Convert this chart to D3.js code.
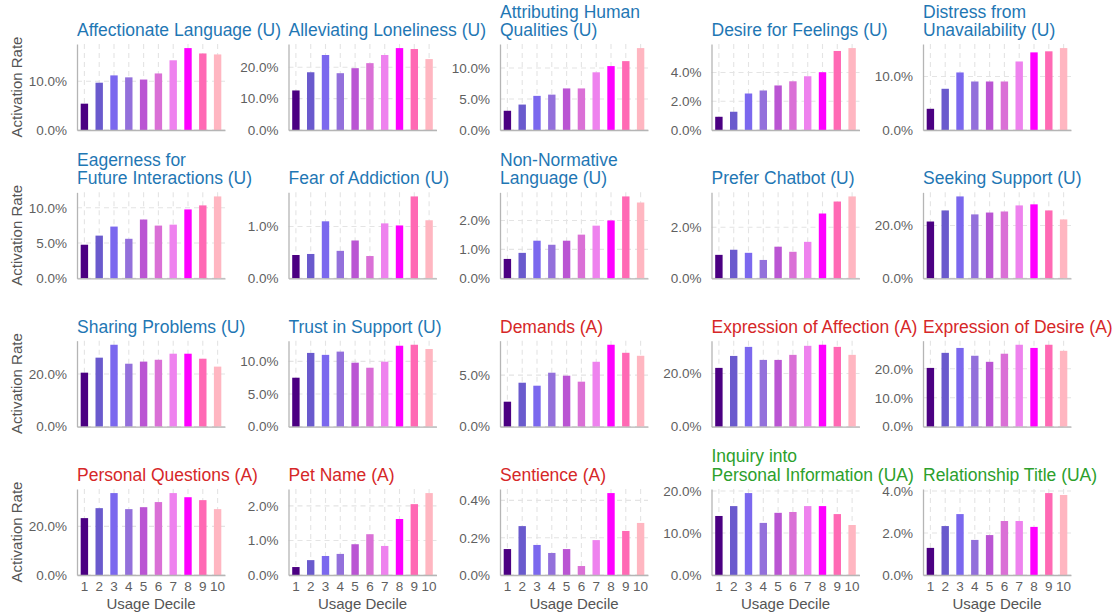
<!DOCTYPE html>
<html>
<head>
<meta charset="utf-8">
<script src="https://cdn.jsdelivr.net/npm/d3@7"></script>
<style>
  body { margin: 0; background: #ffffff; }
  svg { display: block; font-family: "Liberation Sans", Arial, Helvetica, sans-serif; }
</style>
</head>
<body>
<svg id="chart" width="1117" height="613"></svg>
<script>
// ---------------- DATA ----------------
const deciles = ["1", "2", "3", "4", "5", "6", "7", "8", "9", "10"];

const panelTitles = [
  "Affectionate Language (U)", "Alleviating Loneliness (U)", "Attributing Human\nQualities (U)",
  "Desire for Feelings (U)", "Distress from\nUnavailability (U)",
  "Eagerness for\nFuture Interactions (U)", "Fear of Addiction (U)", "Non-Normative\nLanguage (U)",
  "Prefer Chatbot (U)", "Seeking Support (U)",
  "Sharing Problems (U)", "Trust in Support (U)", "Demands (A)",
  "Expression of Affection (A)", "Expression of Desire (A)",
  "Personal Questions (A)", "Pet Name (A)", "Sentience (A)",
  "Inquiry into\nPersonal Information (UA)", "Relationship Title (UA)"
];

const panelTypes = [
  "U", "U", "U", "U", "U",
  "U", "U", "U", "U", "U",
  "U", "U", "A", "A", "A",
  "A", "A", "A", "UA", "UA"
];

// activation rate (%) per usage decile 1..10
const affectionateLanguage   = [5.4, 9.7, 11.2, 10.8, 10.35, 11.6, 14.3, 16.8, 15.7, 15.5];
const alleviatingLoneliness  = [12.6, 18.4, 23.9, 18.1, 19.7, 21.3, 23.9, 26.1, 25.8, 22.6];
const attributingHuman       = [3.1, 4.1, 5.5, 5.7, 6.7, 6.7, 9.3, 10.3, 11.1, 13.2];
const desireForFeelings      = [0.92, 1.27, 2.54, 2.75, 3.1, 3.39, 3.74, 4.02, 5.5, 5.7];
const distressUnavailability = [3.96, 7.7, 10.75, 9.06, 9.06, 9.06, 12.8, 14.5, 14.7, 15.3];
const eagernessFuture        = [4.76, 6.05, 7.33, 5.6, 8.33, 7.47, 7.6, 9.76, 10.33, 11.6];
const fearOfAddiction        = [0.45, 0.47, 1.10, 0.53, 0.73, 0.43, 1.06, 1.02, 1.58, 1.12];
const nonNormative           = [0.67, 0.88, 1.30, 1.16, 1.30, 1.51, 1.82, 2.0, 2.83, 2.62];
const preferChatbot          = [0.92, 1.12, 1.0, 0.72, 1.24, 1.04, 1.43, 2.54, 3.01, 3.21];
const seekingSupport         = [21.5, 25.7, 31.0, 24.2, 24.9, 25.3, 27.6, 28.0, 25.7, 22.3];
const sharingProblems        = [20.5, 26.2, 31.1, 23.9, 24.7, 25.4, 27.7, 27.7, 25.8, 22.8];
const trustInSupport         = [7.5, 11.3, 11.0, 11.5, 9.8, 9.03, 9.95, 12.4, 12.55, 11.9];
const demands                = [2.42, 4.26, 3.97, 5.23, 4.94, 4.36, 6.29, 7.94, 7.16, 6.87];
const expressionAffection    = [22.1, 26.6, 30.0, 25.1, 25.1, 27.0, 30.4, 30.8, 30.0, 27.0];
const expressionDesire       = [20.3, 25.5, 27.2, 24.5, 22.4, 25.2, 28.3, 27.2, 28.3, 26.2];
const personalQuestions      = [23.4, 27.5, 33.7, 27.1, 27.9, 30.0, 33.7, 32.0, 30.8, 27.1];
const petName                = [0.23, 0.43, 0.55, 0.61, 0.89, 1.18, 0.84, 1.62, 2.05, 2.37];
const sentience              = [0.139, 0.262, 0.161, 0.118, 0.139, 0.048, 0.187, 0.439, 0.236, 0.279];
const inquiryPersonal        = [14.05, 16.4, 19.5, 12.4, 14.8, 15.0, 16.4, 16.4, 14.5, 11.9];
const relationshipTitle      = [1.29, 2.33, 2.9, 1.67, 1.9, 2.57, 2.57, 2.29, 3.9, 3.81];

const panelValues = [
  affectionateLanguage, alleviatingLoneliness, attributingHuman, desireForFeelings, distressUnavailability,
  eagernessFuture, fearOfAddiction, nonNormative, preferChatbot, seekingSupport,
  sharingProblems, trustInSupport, demands, expressionAffection, expressionDesire,
  personalQuestions, petName, sentience, inquiryPersonal, relationshipTitle
];

// y tick values (%) per panel
const panelTicks = [
  [0, 10], [0, 10, 20], [0, 5, 10], [0, 2, 4], [0, 10],
  [0, 5, 10], [0, 1], [0, 1, 2], [0, 2], [0, 20],
  [0, 20], [0, 5, 10], [0, 5], [0, 20], [0, 10, 20],
  [0, 20], [0, 1, 2], [0, 0.2, 0.4], [0, 10, 20], [0, 2, 4]
];

const decileColors = ["#4b0082", "#6a5acd", "#7b68ee", "#9370db", "#ba55d3",
                      "#da70d6", "#ee82ee", "#ff00ff", "#ff69b4", "#ffb6c1"];
const typeColors = { "U": "#1f77b4", "A": "#d62728", "UA": "#2ca02c" };

const yAxisTitle = "Activation Rate";
const xAxisTitle = "Usage Decile";

// ---------------- LAYOUT ----------------
const nCols = 5, nRows = 4;
const left0 = 77, colStep = 211.5;
const top0 = 44, rowStep = 148.33;
const panelW = 148, panelH = 86;

const svg = d3.select("#chart");
const gridColor = "#e4e4e4";
const axisColor = "#b5b5b5";
const tickColor = "#5f5f5f";
const titleGray = "#555555";

const color = d3.scaleOrdinal().domain(deciles).range(decileColors);

panelTitles.forEach((title, i) => {
  const col = i % nCols, row = Math.floor(i / nCols);
  const gx = left0 + col * colStep, gy = top0 + row * rowStep;
  const vals = panelValues[i];
  const g = svg.append("g").attr("transform", `translate(${gx},${gy})`);

  const x = d3.scaleBand().domain(deciles).range([0, panelW]).paddingInner(0.5).paddingOuter(0.25);
  const y = d3.scaleLinear().domain([0, d3.max(vals) * 1.05]).range([panelH, 0]);

  // grid
  g.append("g").selectAll("line.vg").data(deciles).join("line")
    .attr("x1", d => x(d) + x.bandwidth() / 2).attr("x2", d => x(d) + x.bandwidth() / 2)
    .attr("y1", 0).attr("y2", panelH)
    .attr("stroke", gridColor).attr("stroke-width", 1.1).attr("stroke-dasharray", "5,4");
  g.append("g").selectAll("line.hg").data(panelTicks[i]).join("line")
    .attr("x1", 0).attr("x2", panelW)
    .attr("y1", d => y(d)).attr("y2", d => y(d))
    .attr("stroke", gridColor).attr("stroke-width", 1.1).attr("stroke-dasharray", "5,4");

  // bars
  g.append("g").selectAll("rect").data(vals).join("rect")
    .attr("x", (d, k) => x(deciles[k]))
    .attr("width", x.bandwidth())
    .attr("y", d => y(d))
    .attr("height", d => panelH - y(d))
    .attr("fill", (d, k) => color(deciles[k]));

  // y axis
  const ya = g.append("g").call(
    d3.axisLeft(y).tickValues(panelTicks[i]).tickSize(0).tickPadding(10)
      .tickFormat(d => d.toFixed(1) + "%"));
  ya.select(".domain").attr("stroke", axisColor).attr("stroke-width", 1.3);
  ya.selectAll("text").attr("fill", tickColor).attr("font-size", 13.5)
    .attr("font-family", "'Liberation Sans', Arial, Helvetica, sans-serif");

  // x axis
  const xa = g.append("g").attr("transform", `translate(0,${panelH})`).call(
    d3.axisBottom(x).tickSize(0).tickPadding(6)
      .tickFormat(d => row === nRows - 1 ? d : ""));
  xa.select(".domain").attr("stroke", axisColor).attr("stroke-width", 1.3);
  xa.selectAll("text").attr("fill", tickColor).attr("font-size", 13.5)
    .attr("font-family", "'Liberation Sans', Arial, Helvetica, sans-serif");

  // title
  const lines = title.split("\n");
  const t = g.append("text").attr("x", 0).attr("y", -8)
    .attr("fill", typeColors[panelTypes[i]]).attr("font-size", 17.5);
  lines.forEach((ln, k) => {
    t.append("tspan").attr("x", 0)
      .attr("y", -8 - (lines.length - 1 - k) * 18.5)
      .text(ln);
  });

  // axis titles
  if (col === 0) {
    svg.append("text")
      .attr("transform", `translate(${16},${gy + panelH / 2}) rotate(-90)`)
      .attr("text-anchor", "middle").attr("dominant-baseline", "central")
      .attr("fill", titleGray).attr("font-size", 15)
      .text(yAxisTitle);
  }
  if (row === nRows - 1) {
    svg.append("text")
      .attr("x", gx + panelW / 2).attr("y", gy + panelH + 34)
      .attr("text-anchor", "middle")
      .attr("fill", titleGray).attr("font-size", 15)
      .text(xAxisTitle);
  }
});
</script>
</body>
</html>
